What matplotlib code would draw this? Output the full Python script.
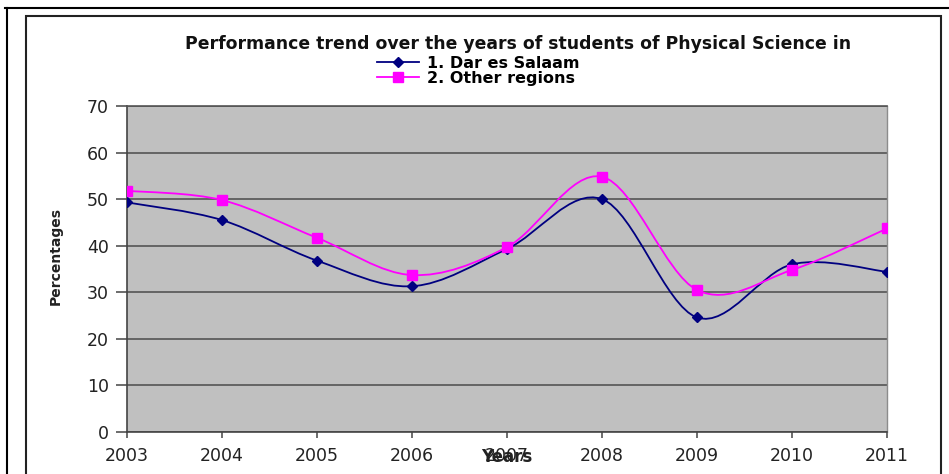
import numpy as np
import matplotlib
matplotlib.use("Agg")
import matplotlib.pyplot as plt
from matplotlib.path import Path
from matplotlib.patches import PathPatch, Rectangle
from matplotlib.lines import Line2D

# data
years = [2003, 2004, 2005, 2006, 2007, 2008, 2009, 2010, 2011]
dar_es_salaam = [49.3, 45.5, 36.8, 31.3, 39.3, 50.0, 24.6, 36.0, 34.4]
other_regions = [51.8, 49.8, 41.7, 33.7, 39.7, 54.8, 30.5, 34.8, 43.7]
y_ticks = [0, 10, 20, 30, 40, 50, 60, 70]

title = "Performance trend over the years of students of Physical Science in"
labels = ["1. Dar es Salaam", "2. Other regions"]
colors = ["#000080", "#FF00FF"]


def smooth_path(xs, ys):
    # Excel-style smoothed line: bezier segments through every point
    pts = np.column_stack([xs, ys]).astype(float)
    n = len(pts)
    verts = [pts[0]]
    codes = [Path.MOVETO]
    for i in range(n - 1):
        p0 = pts[i - 1] if i > 0 else pts[i]
        p1 = pts[i]
        p2 = pts[i + 1]
        p3 = pts[i + 2] if i + 2 < n else pts[i + 1]
        verts += [p1 + (p2 - p0) / 6, p2 - (p3 - p1) / 6, p2]
        codes += [Path.CURVE4] * 3
    return Path(verts, codes)


W, H = 949, 474
fig = plt.figure(figsize=(W / 100, H / 100), dpi=100)
fig.patch.set_facecolor("white")

# outer page lines and chart area frame
fig.add_artist(Line2D([5 / W, 1], [1 - 8 / H, 1 - 8 / H], color="black", lw=1.5))
fig.add_artist(Line2D([7 / W, 7 / W], [0, 1 - 8 / H], color="black", lw=1.5))
fig.add_artist(Rectangle((26 / W, -0.05), (941 - 26) / W, 1.05 - 16 / H,
                         transform=fig.transFigure, fill=False,
                         edgecolor="#222222", lw=1.5))

ax = fig.add_axes([127 / W, 1 - 432 / H, (887 - 127) / W, (432 - 106) / H])
ax.set_facecolor("#C0C0C0")

# smoothed lines + markers
ax.add_patch(PathPatch(smooth_path(years, dar_es_salaam), fill=False,
                       edgecolor=colors[0], lw=1.3, zorder=3))
ax.add_patch(PathPatch(smooth_path(years, other_regions), fill=False,
                       edgecolor=colors[1], lw=1.3, zorder=4))
ax.plot(years, dar_es_salaam, linestyle="none", marker="D", ms=5,
        color=colors[0], zorder=5)
ax.plot(years, other_regions, linestyle="none", marker="s", ms=7.5,
        color=colors[1], zorder=6)

ax.set_xlim(2003, 2011)
ax.set_ylim(0, 70)
ax.set_xticks(years)
ax.set_yticks(y_ticks)
ax.yaxis.grid(True, color="#555555", lw=1.2)
ax.set_axisbelow(True)

for side in ["left", "bottom"]:
    ax.spines[side].set_color("#444444")
    ax.spines[side].set_linewidth(1.2)
ax.spines["top"].set_color("#555555")
ax.spines["top"].set_linewidth(1.2)
ax.spines["right"].set_color("#8c8c8c")
ax.spines["right"].set_linewidth(1.0)

ax.tick_params(axis="y", direction="out", length=8, width=1.1, pad=5,
               labelsize=12.5, colors="#444444", labelcolor="#222222")
ax.tick_params(axis="x", direction="out", length=4, width=1.1, pad=7,
               labelsize=12.5, colors="#444444", labelcolor="#222222")

ax.set_ylabel("Percentages", fontsize=10, fontweight="bold", color="#222222")
ax.yaxis.set_label_coords(-0.084, 0.54)
ax.set_xlabel("Years", fontsize=12, fontweight="bold", color="#222222")
ax.xaxis.set_label_coords(0.5, -0.05)

fig.text(518 / W, 1 - 35 / H, title, ha="center", va="top",
         fontsize=12.4, fontweight="bold", color="#111111")

handles = [
    Line2D([], [], color=colors[0], lw=1.3, marker="D", ms=5),
    Line2D([], [], color=colors[1], lw=1.3, marker="s", ms=7.5),
]
fig.legend(handles, labels, loc="upper left",
           bbox_to_anchor=(377 / W, 1 - 56 / H), frameon=False,
           borderpad=0, borderaxespad=0, handlelength=2.6,
           handletextpad=0.5, labelspacing=0.0,
           prop={"size": 11.5, "weight": "bold"})

fig.savefig("out.png", dpi=100, facecolor="white")
